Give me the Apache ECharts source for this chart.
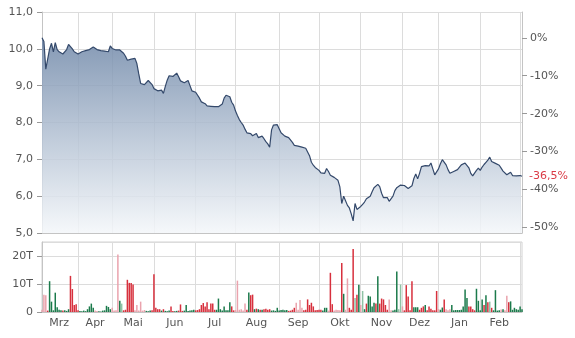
<!DOCTYPE html>
<html><head><meta charset="utf-8">
<script src="https://cdn.jsdelivr.net/npm/echarts@6/dist/echarts.min.js"></script>
<style>html,body{margin:0;padding:0;background:#fff}#c{width:575px;height:338px}</style>
</head><body><div id="c"></div>
<script>
// ---- data ----
const startDate = '2023-03-07';
const endDate = '2024-03-04';
const holidays = ['2023-04-07','2023-04-10','2023-05-01','2023-12-25','2023-12-26','2024-01-01'];
const monthNames = ['Jan','Feb','Mrz','Apr','Mai','Jun','Jul','Aug','Sep','Okt','Nov','Dez'];
const priceTicks = [5, 11, 1];      // min, max, step
const pctTickValues = [0, -10, -20, -30, -40, -50];
const volTicks = [0, 25, 10];

const prices = [
 10.30,10.20,9.45,9.43,10.00,10.15,9.92,10.17,9.98,9.92,
 9.88,9.86,9.88,9.98,10.12,10.15,10.00,9.92,9.88,9.86,
 9.88,9.92,9.93,9.95,9.97,9.98,10.01,10.05,10.00,9.98,
 9.96,9.95,9.95,9.94,9.90,9.92,10.08,10.01,10.03,9.97,
 10.00,9.97,9.94,9.88,9.80,9.69,9.68,9.72,9.76,9.74,
 9.60,9.32,9.06,9.03,9.03,9.07,9.14,9.17,9.03,8.92,
 8.90,8.86,8.84,8.88,8.79,8.98,9.15,9.27,9.22,9.25,
 9.25,9.34,9.24,9.13,9.08,9.08,9.12,9.14,9.00,8.86,
 8.89,8.82,8.78,8.66,8.56,8.52,8.51,8.45,8.43,8.44,
 8.45,8.43,8.43,8.43,8.44,8.50,8.66,8.74,8.72,8.70,
 8.55,8.47,8.31,8.19,8.08,8.00,7.93,7.82,7.72,7.76,
 7.70,7.64,7.66,7.70,7.59,7.62,7.63,7.56,7.48,7.42,
 7.33,7.80,7.93,7.89,7.94,7.95,7.72,7.67,7.63,7.61,
 7.59,7.56,7.46,7.38,7.34,7.36,7.34,7.33,7.31,7.30,
 7.26,7.10,6.92,6.84,6.78,6.75,6.70,6.63,6.62,6.62,
 6.75,6.67,6.57,6.53,6.51,6.49,6.43,6.25,5.80,6.00,
 5.98,5.75,5.68,5.52,5.33,5.80,5.64,5.68,5.72,5.78,
 5.84,5.93,5.96,6.00,6.12,6.23,6.26,6.32,6.26,6.08,
 5.96,5.94,5.96,5.86,5.88,6.00,6.15,6.23,6.27,6.30,
 6.28,6.29,6.28,6.21,6.18,6.28,6.48,6.60,6.47,6.62,
 6.80,6.83,6.83,6.82,6.82,6.90,6.74,6.58,6.60,6.74,
 6.88,6.99,6.95,6.85,6.72,6.62,6.62,6.67,6.72,6.72,
 6.76,6.85,6.88,6.90,6.87,6.77,6.62,6.55,6.60,6.70,
 6.76,6.70,6.79,6.86,6.92,6.98,7.06,6.94,6.90,6.89,
 6.88,6.84,6.76,6.68,6.70,6.58,6.62,6.65,6.56,6.55,
 6.55,6.55,6.56,6.54
];

// volume in thousands (T)
const volumes = [
 0.8,6.2,6.0,0.5,11.0,3.7,0.6,6.9,1.7,0.8,
 0.6,0.5,0.6,0.4,1.0,12.9,8.2,2.5,2.8,0.6,
 0.4,0.3,0.5,0.3,1.0,2.0,3.0,1.5,0.5,0.4,
 0.3,0.4,0.5,0.6,2.2,1.8,1.0,1.5,0.5,0.6,
 20.5,4.0,3.0,0.6,0.8,11.5,10.4,10.4,9.8,0.6,
 2.5,0.5,3.7,0.5,0.7,0.4,0.3,0.5,0.6,13.5,
 1.5,1.0,1.0,0.5,1.0,0.4,0.3,0.5,2.0,0.4,
 0.3,0.4,0.5,2.7,0.4,0.5,2.5,0.4,0.5,0.6,
 0.8,0.6,0.7,1.0,2.5,3.2,2.0,3.5,1.0,3.0,
 3.0,0.8,0.8,4.8,1.0,0.5,2.0,0.6,0.6,3.5,
 2.0,0.6,0.7,11.2,0.8,1.0,0.5,3.0,0.8,7.0,
 6.0,6.2,1.0,1.2,1.0,0.8,0.8,1.0,1.2,0.8,
 1.0,0.5,0.6,0.4,1.5,0.5,0.7,0.8,0.6,0.7,
 0.4,0.5,0.8,1.5,3.3,0.8,4.3,1.5,0.6,0.8,
 4.5,2.5,3.3,2.0,0.6,0.7,0.8,0.8,0.5,1.5,
 1.5,0.5,14.0,2.8,0.5,0.8,0.7,0.6,17.5,6.5,
 0.8,12.0,1.5,0.8,22.5,5.0,6.2,9.7,2.5,7.5,
 1.0,3.0,5.8,5.5,2.0,3.3,3.0,12.8,3.0,4.8,
 4.5,2.5,0.8,4.5,0.6,0.5,0.8,14.5,1.0,9.8,
 2.0,0.6,9.6,5.5,0.6,11.0,1.7,1.7,1.7,0.8,
 1.5,2.0,2.5,0.6,2.0,1.2,0.6,0.6,7.5,1.0,
 0.8,1.6,4.5,1.0,0.6,1.0,2.5,0.6,0.7,0.7,
 0.7,0.8,2.0,8.0,5.0,2.0,2.0,1.0,0.6,8.3,
 4.0,0.6,4.5,2.5,6.0,3.5,3.7,1.5,0.6,7.8,
 0.5,0.6,0.9,1.0,0.6,5.8,3.5,3.8,0.8,1.5,
 1.0,0.8,2.0,1.0
];
// r = down, g = up, p = down (light), q = up (light)
const volumeTypes = (
 'ppprgggggg'+'grgggrrrrr'+'ggggggggpp'+'gqgggggppp'+'pgqrrrrrrp'+
 'pppppgggrr'+'rrrgrgggrr'+'ggrrrggggg'+'grrrrrrrrr'+'rrgggggggg'+
 'rrpppppprg'+'rrgrgrgrrr'+'rggggggggg'+'rrrrpppprr'+'rrrrrrrrgg'+
 'gprrpppprg'+'pprrrqrgpq'+'grggggrgrr'+'rrrppgggqq'+'prrrrrgggr'+
 'rrgrrrrrrp'+'ggrpppgggg'+'gggggrrrrg'+'gggrgrqrgg'+'ggpgpprggg'+
 'gggg'
).split('');

const colorsByType = { r: '#d7303d', g: '#1b7a4b', p: '#eaa3ad', q: '#8fc2a5' };

// ---- trading-day categories ----
function buildDates() {
  const out = [];
  const d = new Date(startDate + 'T00:00:00Z');
  const end = new Date(endDate + 'T00:00:00Z');
  while (d <= end) {
    const s = d.toISOString().slice(0, 10);
    const wd = d.getUTCDay();
    if (wd !== 0 && wd !== 6 && holidays.indexOf(s) < 0) out.push(s);
    d.setUTCDate(d.getUTCDate() + 1);
  }
  return out;
}
const dates = buildDates();
const monthOf = s => s.slice(0, 7);
const isMonthStart = {};
const groups = {};
dates.forEach((s, i) => {
  const m = monthOf(s);
  if (!groups[m]) groups[m] = [];
  groups[m].push(i);
  if (i > 0 && m !== monthOf(dates[i - 1])) isMonthStart[i] = true;
});
const labelIdx = {};
Object.keys(groups).forEach(m => {
  const g = groups[m];
  if (g.length > 5) labelIdx[g[Math.floor(g.length / 2)]] = true;
});

const basePrice = prices[0];
const lastPrice = prices[prices.length - 1];
const pctText = ((lastPrice / basePrice - 1) * 100).toFixed(1).replace('.', ',') + '%';
const pctPriceValues = pctTickValues.map(p => basePrice * (1 + p / 100));

const FONT = 'DejaVu Sans';
const labelStyle = { color: '#555', fontSize: 11, fontFamily: FONT };
const gridColor = '#dcdcdc';
const axisColor = '#c4c4c4';
const monthSplit = { show: true, interval: i => !!isMonthStart[i], lineStyle: { color: gridColor, width: 1 } };

const chart = echarts.init(document.getElementById('c'));
chart.setOption({
  animation: false,
  grid: [
    { left: 42, right: 53, top: 12, height: 221 },
    { left: 42, right: 53, top: 242, height: 70, show: true, borderColor: '#d2d2d2', borderWidth: 1 }
  ],
  xAxis: [
    { gridIndex: 0, type: 'category', data: dates, boundaryGap: false,
      axisLine: { lineStyle: { color: axisColor } }, axisTick: { show: false }, axisLabel: { show: false },
      splitLine: monthSplit },
    { gridIndex: 1, type: 'category', data: dates, boundaryGap: false,
      axisLine: { lineStyle: { color: axisColor } }, axisTick: { show: false },
      axisLabel: Object.assign({ interval: i => !!labelIdx[i], margin: 6,
        formatter: v => monthNames[parseInt(v.slice(5, 7), 10) - 1] }, labelStyle),
      splitLine: monthSplit }
  ],
  yAxis: [
    { gridIndex: 0, type: 'value', min: priceTicks[0], max: priceTicks[1], interval: priceTicks[2],
      axisLine: { show: true, lineStyle: { color: axisColor } },
      axisTick: { show: true, length: 5, lineStyle: { color: '#999' } },
      axisLabel: Object.assign({ margin: 9, formatter: v => v.toFixed(1).replace('.', ',') }, labelStyle),
      splitLine: { show: true, lineStyle: { color: gridColor, width: 1 } } },
    { gridIndex: 0, type: 'value', position: 'right', min: priceTicks[0], max: priceTicks[1],
      axisLine: { show: true, lineStyle: { color: axisColor } },
      axisTick: { show: true, length: 5, customValues: pctPriceValues, lineStyle: { color: '#999' } },
      axisLabel: Object.assign({ margin: 8, customValues: pctPriceValues,
        formatter: v => Math.round((v / basePrice - 1) * 100) + '%' }, labelStyle),
      splitLine: { show: false } },
    { gridIndex: 1, type: 'value', min: volTicks[0], max: volTicks[1], interval: volTicks[2],
      axisLine: { show: true, lineStyle: { color: axisColor } },
      axisTick: { show: true, length: 5, lineStyle: { color: '#999' } },
      axisLabel: Object.assign({ margin: 9, showMaxLabel: false, formatter: v => v === 0 ? '0' : v + 'T' }, labelStyle),
      splitLine: { show: true, lineStyle: { color: gridColor, width: 1 } } }
  ],
  series: [
    { type: 'line', xAxisIndex: 0, yAxisIndex: 0, data: prices, symbol: 'none',
      lineStyle: { color: '#34496b', width: 1.2 },
      areaStyle: { opacity: 0.85, color: new echarts.graphic.LinearGradient(0, 0, 0, 1, [
        { offset: 0, color: '#6f87a8' }, { offset: 0.5, color: '#b3c1d3' }, { offset: 1, color: '#f4f7fa' }]) },
      markLine: { silent: true, symbol: ['none', 'none'], lineStyle: { color: 'transparent', width: 0 },
        label: { show: true, position: 'end', distance: 7, formatter: pctText,
          color: '#da3a45', fontSize: 11, fontFamily: FONT },
        data: [{ yAxis: lastPrice }] } },
    { type: 'bar', xAxisIndex: 1, yAxisIndex: 2, barWidth: 1.5,
      data: volumes.map((v, i) => ({ value: v, itemStyle: { color: colorsByType[volumeTypes[i]] || '#1b7a4b' } })) }
  ]
});
</script></body></html>
